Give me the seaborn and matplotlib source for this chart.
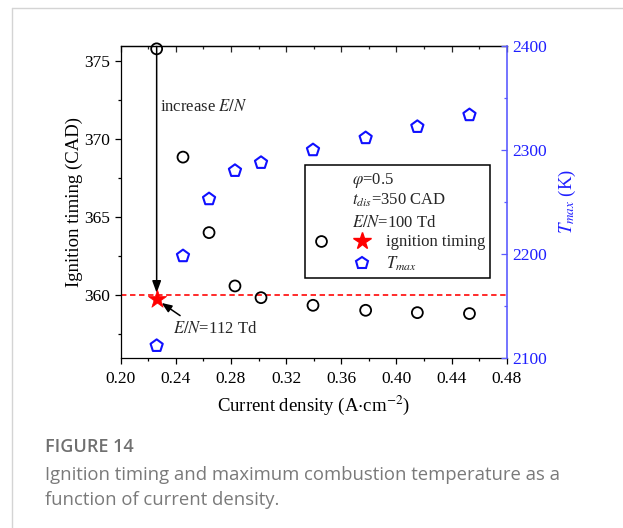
import matplotlib
matplotlib.use("Agg")
import matplotlib.pyplot as plt
import seaborn as sns
import pandas as pd
from matplotlib.lines import Line2D
from matplotlib.legend_handler import HandlerTuple
from matplotlib.patches import Rectangle
from matplotlib.ticker import MultipleLocator

# ---------------- data ----------------
current_density = [0.2261, 0.2452, 0.2641, 0.2829, 0.3018, 0.3395, 0.3777, 0.4152, 0.4530]
ignition_timing = [375.8, 368.86, 364.02, 360.60, 359.85, 359.36, 359.04, 358.89, 358.83]
t_max = [2111.5, 2197.8, 2252.6, 2279.8, 2287.5, 2299.7, 2311.3, 2322.1, 2333.4]
star_x = [0.2261]
star_y = [359.75]
reference_timing = 360
x_ticks = [0.20, 0.24, 0.28, 0.32, 0.36, 0.40, 0.44, 0.48]
left_ticks = [360, 365, 370, 375]
right_ticks = [2100, 2200, 2300, 2400]

df = pd.DataFrame({"cd": current_density, "it": ignition_timing, "tmax": t_max})
df_star = pd.DataFrame({"cd": star_x, "it": star_y})

# ---------------- style ----------------
sns.set_theme(style="ticks")
plt.rcParams["font.family"] = ["Liberation Serif", "DejaVu Serif"]
plt.rcParams["mathtext.fontset"] = "stix"
plt.rcParams["axes.linewidth"] = 0.9

BLUE_SPINE = "#5c5cff"
BLUE_TXT = "#1f1fff"

fig = plt.figure(figsize=(6.23, 5.28), dpi=100)
ax = fig.add_axes([0.1937, 0.3225, 0.6196, 0.5909])
ax2 = ax.twinx()

# ignition timing circles
sns.scatterplot(data=df, x="cd", y="it", ax=ax, marker="o", s=62,
                color="black", linewidth=1.3, legend=False, clip_on=False, zorder=4)
ax.collections[-1].set_facecolor("none")
ax.collections[-1].set_edgecolor("black")

# red dashed reference
ax.axhline(reference_timing, color="#ff1a1a", lw=1.3, ls=(0, (3, 2)), zorder=2)

# star
sns.scatterplot(data=df_star, x="cd", y="it", ax=ax, marker="*", s=190,
                color="#ff0000", edgecolor="#ff0000", linewidth=0.5, legend=False, zorder=6)

# Tmax pentagons
sns.scatterplot(data=df, x="cd", y="tmax", ax=ax2, marker="p", s=85,
                color=BLUE_TXT, linewidth=1.5, legend=False, zorder=4)
ax2.collections[-1].set_facecolor("none")
ax2.collections[-1].set_edgecolor("#1010ff")

# axes limits / ticks
ax.set_xlim(0.20, 0.48)
ax.set_ylim(356.0, 376.0)
ax2.set_ylim(2100, 2400)
ax.set_xticks(x_ticks)
ax.set_xticklabels([f"{t:.2f}" for t in x_ticks])
ax.xaxis.set_minor_locator(MultipleLocator(0.02))
ax.set_yticks(left_ticks)
ax.yaxis.set_minor_locator(MultipleLocator(2.5))
ax2.set_yticks(right_ticks)
ax2.yaxis.set_minor_locator(MultipleLocator(50))

ax.tick_params(axis="both", which="major", direction="out", length=4.5, width=0.9,
               labelsize=12.5, color="black", labelcolor="black")
ax.tick_params(axis="x", which="major", pad=5)
ax.tick_params(axis="y", which="major", pad=3)
ax.tick_params(axis="both", which="minor", direction="out", length=2.5, width=0.9, color="black")
ax.tick_params(axis="y", right=False, which="both")
ax.tick_params(axis="x", top=False, which="both")

top = ax.secondary_xaxis("top")
top.set_xticks(x_ticks)
top.xaxis.set_minor_locator(MultipleLocator(0.02))
top.tick_params(which="major", direction="in", length=4.5, width=0.9, labeltop=False)
top.tick_params(which="minor", direction="in", length=2.5, width=0.9)
top.spines["top"].set_linewidth(0.9)

ax2.tick_params(axis="y", which="major", direction="in", length=4.5, width=0.9,
                color=BLUE_SPINE, labelcolor=BLUE_TXT, labelsize=12.5, pad=4)
ax2.tick_params(axis="y", which="minor", direction="in", length=2.5, width=0.9, color=BLUE_SPINE)

for s in ["left", "top", "bottom"]:
    ax2.spines[s].set_visible(False)
ax2.spines["right"].set_color(BLUE_SPINE)
ax2.spines["right"].set_linewidth(1.2)
ax.spines["right"].set_visible(False)
for s in ["left", "top", "bottom"]:
    ax.spines[s].set_color("black")

ax.set_xlabel("Current density (A$\\cdot$cm$^{-2}$)", fontsize=13.5, color="black", labelpad=5)
ax.set_ylabel("Ignition timing (CAD)", fontsize=13.5, color="black", labelpad=1)
ax2.set_ylabel("$T_{max}$ (K)", fontsize=13.5, color=BLUE_TXT, labelpad=7)

ax.grid(False)
ax2.grid(False)

# annotations
ax.annotate("", xy=(star_x[0], 360.15), xytext=(star_x[0], 375.95),
            arrowprops=dict(arrowstyle="-|>,head_length=0.6,head_width=0.22",
                            color="black", lw=1.1, shrinkA=0, shrinkB=0),
            zorder=3, annotation_clip=False)
ax.text(0.2286, 372.05, "increase $E/N$", fontsize=12, va="center", ha="left")
ax.annotate("", xy=(0.2297, 359.51), xytext=(0.2431, 358.7),
            arrowprops=dict(arrowstyle="-|>,head_length=0.5,head_width=0.2",
                            color="black", lw=1.1, shrinkA=0, shrinkB=0), zorder=5)
ax.text(0.2377, 357.85, "$E/N$=112 Td", fontsize=12, va="center", ha="left")

# legend box
ax.add_patch(Rectangle((0.4775, 0.2554), 0.4792, 0.3622, transform=ax.transAxes,
                       facecolor="white", edgecolor="black", lw=1.1, zorder=7))
for yy, txt in [(0.5558, "$\\varphi$=0.5"), (0.4917, "$t_{dis}$=350 CAD"),
                (0.4199, "$E/N$=100 Td")]:
    ax.text(0.598, yy, txt, transform=ax.transAxes, fontsize=12, va="baseline",
            ha="left", zorder=8)

h_circle = Line2D([], [], ls="none", marker="o", ms=7.8, mfc="none", mec="black", mew=1.3)
h_star = Line2D([], [], ls="none", marker="*", ms=13, mfc="#ff0000", mec="#ff0000")
h_blank = Line2D([], [], ls="none")
h_pent = Line2D([], [], ls="none", marker="p", ms=9.2, mfc="none", mec="#1010ff", mew=1.5)
leg = ax.legend([(h_circle, h_star), (h_blank, h_pent)], ["ignition timing", "$T_{max}$"],
                handler_map={tuple: HandlerTuple(ndivide=2, pad=22 / 12)},
                handlelength=38 / 12, handletextpad=1.07, fontsize=12,
                loc="upper left", bbox_to_anchor=(0.504, 0.395), frameon=False,
                borderpad=0, borderaxespad=0, labelspacing=0.25)
leg.set_zorder(9)

# figure card border and caption
fig.add_artist(Line2D([12 / 623, 12 / 623], [0, 1 - 8 / 528], transform=fig.transFigure,
                      color="#d4d4d4", lw=1.0))
fig.add_artist(Line2D([12 / 623, 1], [1 - 8 / 528, 1 - 8 / 528], transform=fig.transFigure,
                      color="#d4d4d4", lw=1.0))
fig.text(45 / 623, 1 - 447 / 528, "FIGURE 14", fontsize=13, fontweight="semibold",
         color="#707070", family=["Open Sans", "DejaVu Sans"], va="center", ha="left")
fig.text(45 / 623, 1 - 475 / 528, "Ignition timing and maximum combustion temperature as a",
         fontsize=13.3, color="#7a7a7a", family=["Open Sans", "DejaVu Sans"], va="center", ha="left")
fig.text(45 / 623, 1 - 500 / 528, "function of current density.",
         fontsize=13.3, color="#7a7a7a", family=["Open Sans", "DejaVu Sans"], va="center", ha="left")

fig.savefig("out.png", dpi=100, facecolor="white")
